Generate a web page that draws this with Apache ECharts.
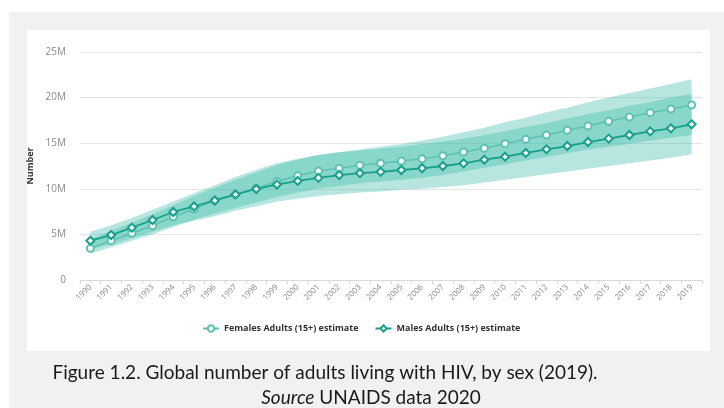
<!DOCTYPE html>
<html>
<head>
<meta charset="utf-8">
<title>Global number of adults living with HIV, by sex</title>
<script src="https://cdn.jsdelivr.net/npm/echarts@6/dist/echarts.min.js"></script>
<style>
  html, body { margin: 0; padding: 0; background: #fff; }
  #chart { width: 724px; height: 408px; }
</style>
</head>
<body>
<div id="chart"></div>
<script>
// Years on the category axis
const years = ['1990','1991','1992','1993','1994','1995','1996','1997','1998','1999',
  '2000','2001','2002','2003','2004','2005','2006','2007','2008','2009',
  '2010','2011','2012','2013','2014','2015','2016','2017','2018','2019'];

// Adults (15+) living with HIV, millions
const femalesEstimate = [3.47, 4.31, 5.12, 5.96, 6.94, 7.78, 8.70, 9.36, 10.05, 10.80,
  11.44, 11.95, 12.25, 12.58, 12.80, 13.05, 13.30, 13.63, 14.04, 14.44,
  14.95, 15.43, 15.90, 16.41, 16.89, 17.40, 17.87, 18.35, 18.75, 19.19];
const femalesLow = [2.9, 3.6, 4.3, 5.0, 5.8, 6.6, 7.3, 7.9, 8.5, 9.1,
  9.6, 10.0, 10.3, 10.6, 10.8, 11.0, 11.2, 11.5, 11.9, 12.3,
  12.7, 13.1, 13.5, 13.9, 14.3, 14.6, 14.9, 15.3, 15.6, 15.9];
const femalesHigh = [4.5, 5.4, 6.3, 7.2, 8.2, 9.2, 10.1, 11.0, 11.8, 12.6,
  13.2, 13.7, 14.0, 14.3, 14.6, 14.9, 15.3, 15.7, 16.2, 16.7,
  17.3, 17.8, 18.4, 18.9, 19.5, 20.0, 20.5, 21.0, 21.5, 22.0];

const malesEstimate = [4.31, 4.93, 5.74, 6.58, 7.46, 8.06, 8.72, 9.38, 9.98, 10.47,
  10.86, 11.20, 11.51, 11.71, 11.86, 12.06, 12.25, 12.50, 12.79, 13.19,
  13.52, 13.93, 14.33, 14.69, 15.13, 15.50, 15.90, 16.30, 16.63, 17.07];
const malesLow = [3.4, 3.9, 4.6, 5.3, 6.0, 6.5, 7.0, 7.6, 8.1, 8.6,
  8.9, 9.2, 9.4, 9.6, 9.7, 9.9, 10.0, 10.2, 10.4, 10.7,
  11.0, 11.3, 11.6, 11.9, 12.2, 12.5, 12.8, 13.1, 13.4, 13.8];
const malesHigh = [5.3, 6.0, 6.8, 7.7, 8.6, 9.5, 10.4, 11.3, 12.1, 12.8,
  13.3, 13.7, 14.0, 14.2, 14.4, 14.6, 14.9, 15.2, 15.5, 15.9,
  16.3, 16.8, 17.2, 17.7, 18.2, 18.6, 19.1, 19.5, 20.0, 20.4];

// Value axis ticks (millions)
const yTicks = [0, 5, 10, 15, 20, 25];

const femaleName = 'Females Adults (15+) estimate';
const maleName = 'Males Adults (15+) estimate';
const femaleColor = '#5dc2b0';
const maleColor = '#17a08a';
const bandColor = 'rgba(64, 188, 170, 0.38)';

function bandSeries(stackId, low, high) {
  const span = high.map((h, i) => +(h - low[i]).toFixed(3));
  return [
    {
      type: 'line', stack: stackId, data: low, symbol: 'none', silent: true,
      lineStyle: { opacity: 0 }, z: 1
    },
    {
      type: 'line', stack: stackId, data: span, symbol: 'none', silent: true,
      lineStyle: { opacity: 0 }, areaStyle: { color: bandColor, opacity: 1 }, z: 1
    }
  ];
}

const chart = echarts.init(document.getElementById('chart'), null, { renderer: 'canvas' });

chart.setOption({
  backgroundColor: '#ffffff',
  animation: false,
  graphic: [
    { type: 'rect', silent: true, z: -20, shape: { x: 9, y: 12, width: 715, height: 396 },
      style: { fill: '#f1f1f1' } },
    { type: 'rect', silent: true, z: -10, shape: { x: 27, y: 30, width: 683, height: 321 },
      style: { fill: '#ffffff' } },
    { type: 'text', silent: true, x: 325, y: 373,
      style: { text: 'Figure 1.2. Global number of adults living with HIV, by sex (2019).',
        font: '19px Lato', fill: '#1a1a1a', align: 'center', verticalAlign: 'middle' } },
    { type: 'text', silent: true, x: 371, y: 398,
      style: { text: '{i|Source} UNAIDS data 2020', font: '19px Lato', fill: '#1a1a1a',
        align: 'center', verticalAlign: 'middle',
        rich: { i: { fontStyle: 'italic', fontFamily: 'Lato', fontSize: 19, fill: '#1a1a1a' } } } }
  ],
  legend: {
    data: [femaleName, maleName],
    left: 197,
    top: 319,
    itemWidth: 16,
    itemHeight: 8,
    itemGap: 16,
    textStyle: { fontFamily: 'Open Sans', fontSize: 9, fontWeight: 'bold', color: '#333' }
  },
  grid: { left: 80, right: 22, top: 52, bottom: 128, containLabel: false },
  xAxis: {
    type: 'category',
    data: years,
    boundaryGap: true,
    axisLine: { lineStyle: { color: '#d9d9d9' } },
    axisTick: { show: true, length: 4, lineStyle: { color: '#d9d9d9' } },
    axisLabel: { rotate: 45, interval: 0, fontSize: 8, color: '#8a8a8a',
      fontFamily: 'Open Sans', margin: 6 }
  },
  yAxis: {
    type: 'value',
    min: 0,
    max: yTicks[yTicks.length - 1],
    interval: 5,
    name: 'Number',
    nameLocation: 'middle',
    nameGap: 38,
    nameRotate: 90,
    nameTextStyle: { fontFamily: 'Open Sans', fontSize: 9, fontWeight: 'bold', color: '#333' },
    axisLine: { show: false },
    axisTick: { show: false },
    splitLine: { lineStyle: { color: '#e4e4e4' } },
    axisLabel: {
      fontSize: 10, color: '#8a8a8a', fontFamily: 'Open Sans', margin: 14,
      formatter: v => (v === 0 ? '0' : v + 'M')
    }
  },
  series: [
    ...bandSeries('femaleBand', femalesLow, femalesHigh),
    ...bandSeries('maleBand', malesLow, malesHigh),
    {
      name: femaleName, type: 'line', data: femalesEstimate, z: 5,
      symbol: 'emptyCircle', symbolSize: 7,
      itemStyle: { color: femaleColor, borderWidth: 1.5 },
      lineStyle: { color: femaleColor, width: 1.5 }
    },
    {
      name: maleName, type: 'line', data: malesEstimate, z: 6,
      symbol: 'emptyDiamond', symbolSize: 8,
      itemStyle: { color: maleColor, borderWidth: 1.5 },
      lineStyle: { color: maleColor, width: 1.8 }
    }
  ]
});
</script>
</body>
</html>
